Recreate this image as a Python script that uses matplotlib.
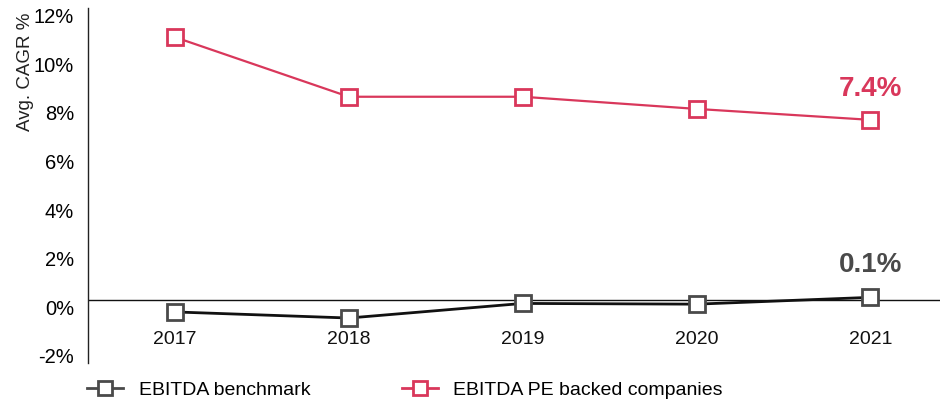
import matplotlib.pyplot as plt
from matplotlib.lines import Line2D

plt.rcParams['font.family'] = ['Liberation Sans', 'DejaVu Sans']

years = ['2017', '2018', '2019', '2020', '2021']
pe_backed = [10.8, 8.35, 8.35, 7.85, 7.4]
benchmark = [-0.5, -0.75, -0.15, -0.18, 0.1]

red = '#d9375b'
dark = '#4a4a4a'

fig = plt.figure(figsize=(9.43, 4.05), dpi=100)
ax = fig.add_axes([88 / 943, 1 - 363 / 405, (940 - 88) / 943, (363 - 8) / 405])

x = list(range(len(years)))
ax.axhline(0, color='#111111', lw=1.0, zorder=1)
ax.plot(x, benchmark, color='#111111', lw=2, marker='s', ms=11, mfc='white',
        mec=dark, mew=2, zorder=3)
ax.plot(x, pe_backed, color=red, lw=1.6, marker='s', ms=11, mfc='white',
        mec=red, mew=2, zorder=3)

ax.set_xlim(-0.5, 4.4)
ax.set_ylim(-2.6, 12.0)
ax.set_yticks(range(-2, 13, 2))
ax.set_yticklabels([f'{v}%' for v in range(-2, 13, 2)], fontsize=14.5)
ax.tick_params(axis='y', length=0, pad=10)
for lbl in ax.get_yticklabels():
    lbl.set_va('top')
ax.set_xticks([])
for s in ['top', 'right', 'bottom']:
    ax.spines[s].set_visible(False)
ax.spines['left'].set_color('#222222')
ax.spines['left'].set_linewidth(1.0)

# year labels sit just below the zero line
for i, yr in enumerate(years):
    ax.text(i, -1.65, yr, ha='center', va='center', fontsize=14, color='#111111')

ax.text(x[-1], pe_backed[-1] + 1.25, f'{pe_backed[-1]}%', ha='center', va='center',
        fontsize=20, fontweight='bold', color=red)
ax.text(x[-1], benchmark[-1] + 1.35, f'{benchmark[-1]}%', ha='center', va='center',
        fontsize=20, fontweight='bold', color=dark)

fig.text(26 / 943, 1 - 72 / 405, 'Avg. CAGR %', rotation=90, ha='center', va='center',
         fontsize=13.5, color='#222222')

handles = [
    Line2D([], [], color=dark, lw=2, marker='s', ms=10, mfc='white', mec=dark, mew=2),
    Line2D([], [], color=red, lw=2, marker='s', ms=10, mfc='white', mec=red, mew=2),
]
fig.legend(handles, ['EBITDA benchmark', 'EBITDA PE backed companies'],
           loc='center left', bbox_to_anchor=(87 / 943, 1 - 390 / 405), ncol=2,
           frameon=False, fontsize=14, handlelength=1.85, handletextpad=0.8,
           columnspacing=4.7, borderpad=0, borderaxespad=0)

fig.savefig('out.png', dpi=100)
